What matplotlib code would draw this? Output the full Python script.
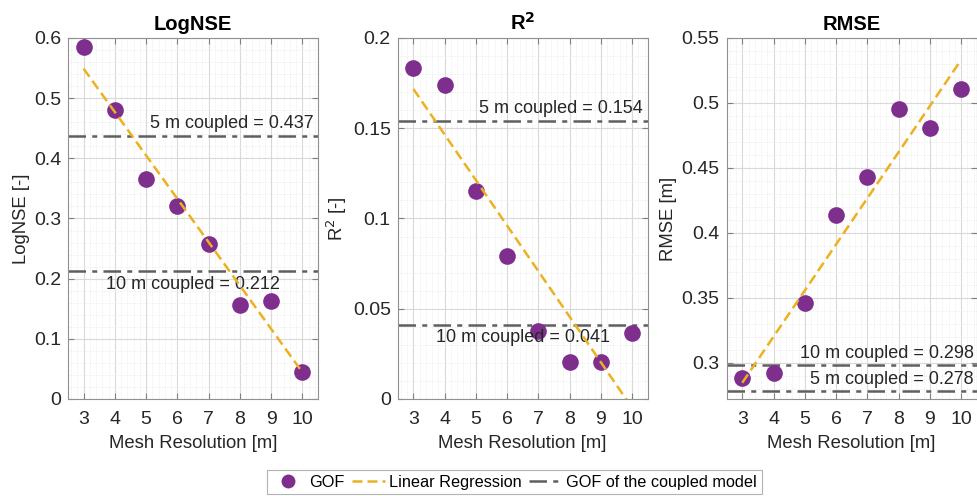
import numpy as np
import matplotlib
matplotlib.use("Agg")
import matplotlib.pyplot as plt
from matplotlib.lines import Line2D
from matplotlib.ticker import MultipleLocator, FuncFormatter

plt.rcParams['font.family'] = ['Liberation Sans', 'DejaVu Sans']

# data
mesh_res = [3, 4, 5, 6, 7, 8, 9, 10]
log_nse = [0.585, 0.480, 0.366, 0.320, 0.258, 0.157, 0.163, 0.045]
r2 = [0.1835, 0.174, 0.115, 0.0794, 0.0375, 0.0207, 0.0207, 0.0366]
rmse = [0.288, 0.292, 0.346, 0.414, 0.443, 0.495, 0.481, 0.511]

coupled_5m = [0.437, 0.154, 0.278]
coupled_10m = [0.212, 0.041, 0.298]

titles = ['LogNSE', 'R$^\\mathbf{2}$', 'RMSE']
ylabels = ['LogNSE [-]', 'R$^2$ [-]', 'RMSE [m]']
ylims = [(0, 0.6), (0, 0.2), (0.272, 0.55)]
ymajor = [0.1, 0.05, 0.05]
yminor = [0.02, 0.01, 0.01]

purple = '#7E2F8E'
orange = '#EDB120'
gray = '#5f5f5f'
dashdot = (0, (7, 2.5, 2, 2.5))
txtc = '#262626'

fig = plt.figure(figsize=(9.78, 4.96), dpi=100)
lefts = [0.0695, 0.4067, 0.743]
axes = [fig.add_axes([l, 0.1956, 0.2556, 0.7278]) for l in lefts]

series = [log_nse, r2, rmse]
fmt = FuncFormatter(lambda v, p: '%g' % round(v, 4))

for i, ax in enumerate(axes):
    y = series[i]
    x = np.array(mesh_res)
    ax.set_xlim(2.5, 10.5)
    ax.set_ylim(*ylims[i])

    # coupled model reference lines
    ax.axhline(coupled_5m[i], color=gray, lw=1.8, ls=dashdot, zorder=2)
    ax.axhline(coupled_10m[i], color=gray, lw=1.8, ls=dashdot, zorder=2)

    # linear regression
    k, b = np.polyfit(x, y, 1)
    ax.plot(x, k * x + b, color=orange, lw=1.8, ls=(0, (4, 2)), zorder=4)

    ax.plot(x, y, 'o', color=purple, ms=12, mec='none', zorder=3)

    ax.set_xticks(mesh_res)
    ax.yaxis.set_major_locator(MultipleLocator(ymajor[i]))
    ax.yaxis.set_major_formatter(fmt)
    ax.xaxis.set_minor_locator(MultipleLocator(0.2))
    ax.yaxis.set_minor_locator(MultipleLocator(yminor[i]))
    ax.grid(True, which='major', color='#d9d9d9', lw=0.8, zorder=0)
    ax.grid(True, which='minor', color='#ececec', lw=0.6, ls=(0, (1, 1)), zorder=0)
    ax.set_axisbelow(True)
    ax.tick_params(which='both', direction='in', top=True, right=True,
                   labelsize=14, colors=txtc)
    ax.tick_params(which='major', length=4, color='#808080')
    ax.tick_params(axis='x', pad=9)
    ax.tick_params(axis='y', pad=5)
    ax.tick_params(which='minor', length=0)
    for s in ax.spines.values():
        s.set_color('#909090')
    ax.set_title(titles[i], fontsize=14.5, fontweight='bold', pad=6)
    ax.set_ylabel(ylabels[i], fontsize=13.3, color=txtc, labelpad=3)
    ax.set_xlabel('Mesh Resolution [m]', fontsize=13.3, color=txtc, labelpad=5)

    txt5 = '5 m coupled = %.3f' % coupled_5m[i]
    txt10 = '10 m coupled = %.3f' % coupled_10m[i]
    span = ylims[i][1] - ylims[i][0]
    if i < 2:
        ax.text(10.35, coupled_5m[i] + span * 0.012, txt5, ha='right',
                va='bottom', fontsize=13, color=txtc)
        ax.text(6.5, coupled_10m[i] - span * 0.012, txt10, ha='center',
                va='top', fontsize=13, color=txtc)
    else:
        ax.text(10.4, coupled_10m[i] + span * 0.008, txt10, ha='right',
                va='bottom', fontsize=13, color=txtc)
        ax.text(10.4, coupled_5m[i] + span * 0.008, txt5, ha='right',
                va='bottom', fontsize=13, color=txtc)

handles = [
    Line2D([], [], marker='o', ls='none', color=purple, ms=10, mec='none', label='GOF'),
    Line2D([], [], color=orange, lw=1.8, ls=(0, (4, 2)), label='Linear Regression'),
    Line2D([], [], color=gray, lw=1.8, ls=dashdot, label='GOF of the coupled model'),
]
leg = fig.legend(handles=handles, loc='center', bbox_to_anchor=(0.526, 0.028),
                 ncol=3, fontsize=11.7, frameon=True, fancybox=False,
                 handlelength=2.0, columnspacing=0.5, handletextpad=0.25,
                 borderpad=0.3, borderaxespad=0)
leg.get_frame().set_edgecolor('#a0a0a0')
leg.get_frame().set_linewidth(0.8)

fig.savefig('out.png', dpi=100)
